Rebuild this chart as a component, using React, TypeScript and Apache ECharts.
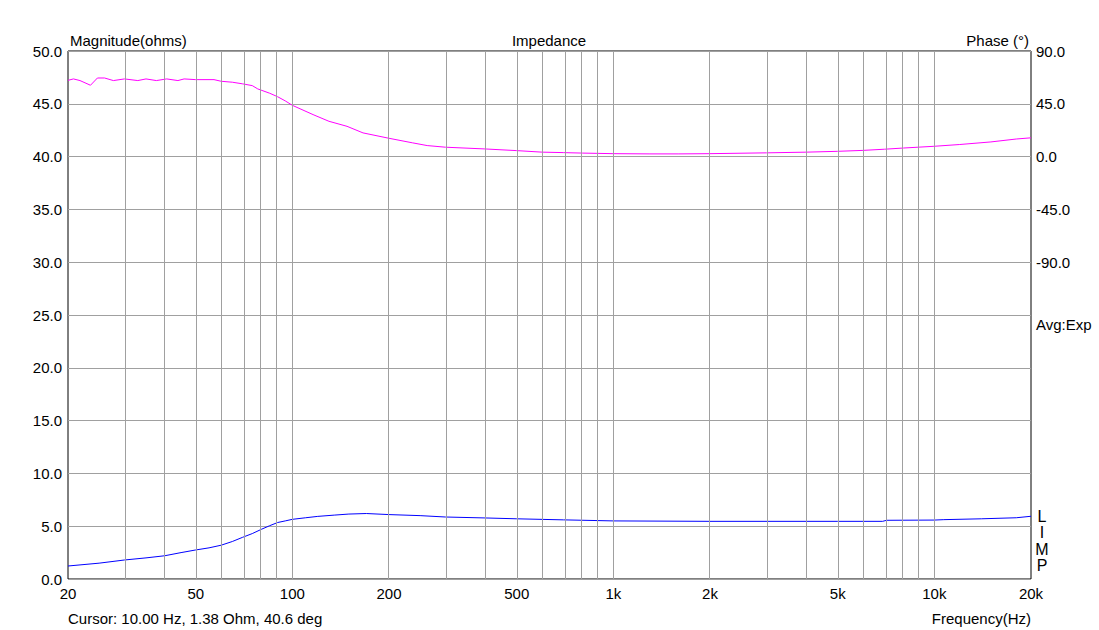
import React, { useEffect, useRef } from "react";
import * as echarts from "echarts";

const magFreq = [20, 25, 30, 35, 40, 45, 50, 55, 60, 65, 70, 75, 80, 85, 90, 95, 100, 110, 120, 135, 150, 170, 200, 250, 300, 400, 500, 700, 1000, 2000, 5000, 6900, 7100, 10000, 10700, 14000, 18000, 20000];
const magValues = [1.23, 1.5, 1.8, 2.0, 2.2, 2.5, 2.75, 2.95, 3.2, 3.55, 3.95, 4.3, 4.7, 5.05, 5.35, 5.5, 5.65, 5.8, 5.93, 6.05, 6.15, 6.2, 6.1, 6.0, 5.87, 5.78, 5.7, 5.6, 5.5, 5.46, 5.46, 5.46, 5.56, 5.58, 5.62, 5.7, 5.8, 5.94];

const phaseFreq = [20, 20.8, 21.8, 23.5, 24.7, 26, 27.7, 30, 33, 35, 37.7, 40.6, 44, 46, 50, 57, 60, 65, 70, 75, 78, 85, 90, 95, 100, 116, 130, 148, 166, 200, 237, 263, 300, 400, 500, 600, 700, 800, 1000, 1300, 1600, 2000, 3000, 4000, 5000, 6000, 7000, 8000, 10000, 12000, 15000, 18000, 20000];
const phaseValues = [65, 66.2, 64.8, 60.8, 67, 67, 64.8, 66.2, 64.8, 66.2, 64.8, 66.2, 64.8, 66.2, 65.6, 65.6, 64.2, 63.4, 62, 60.5, 57.7, 54, 51, 47.5, 43.7, 35.8, 30.1, 25.8, 20.2, 15.6, 11.7, 9.4, 8, 6.5, 5.1, 3.8, 3.4, 3, 2.5, 2.3, 2.3, 2.5, 3.2, 3.8, 4.5, 5.3, 6.3, 7.3, 8.8, 10.3, 12.5, 15, 16];

const freqLabels = [20, 50, 100, 200, 500, 1000, 2000, 5000, 10000, 20000];
const gridFreqs = [30, 40, 50, 60, 70, 80, 90, 100, 200, 300, 400, 500, 600, 700, 800, 900, 1000, 2000, 3000, 4000, 5000, 6000, 7000, 8000, 9000, 10000];
const limpLetters = ["L", "I", "M", "P"];

const FONT = "'Liberation Sans', Arial, sans-serif";
const FS = 15;

function fmtFreq(v: number): string {
  const f = Math.round(Math.pow(10, v));
  if (f >= 1000) return f / 1000 + "k";
  return String(f);
}

export default function App() {
  const ref = useRef<HTMLDivElement>(null);
  useEffect(() => {
    if (!ref.current) return;
    const chart = echarts.init(ref.current, null, { renderer: "svg" });
    const lg = (f: number) => Math.log10(f);
    const textStyle = { fontFamily: FONT, fontSize: FS, fill: "#000" };
    chart.setOption({
      animation: false,
      backgroundColor: "#fff",
      grid: { left: 68, right: 68, top: 51, bottom: 51, show: true, borderColor: "#000", borderWidth: 1, backgroundColor: "transparent" },
      xAxis: {
        type: "value",
        min: lg(20),
        max: lg(20000),
        axisLine: { show: false },
        axisTick: { show: false },
        splitLine: { show: false },
        axisLabel: {
          customValues: freqLabels.map(lg),
          formatter: (v: number) => fmtFreq(v),
          color: "#000",
          fontFamily: FONT,
          fontSize: FS,
          margin: 7,
          showMinLabel: true,
          showMaxLabel: true,
        },
      },
      yAxis: [
        {
          type: "value",
          min: 0,
          max: 50,
          interval: 5,
          axisLine: { show: false },
          axisTick: { show: false },
          splitLine: { show: true, lineStyle: { color: "#a0a0a0", width: 1 } },
          axisLabel: { formatter: (v: number) => v.toFixed(1), color: "#000", fontFamily: FONT, fontSize: FS, margin: 6 },
        },
        {
          type: "value",
          min: -360,
          max: 90,
          interval: 45,
          position: "right",
          axisLine: { show: false },
          axisTick: { show: false },
          splitLine: { show: false },
          axisLabel: { formatter: (v: number) => (v >= -90 ? v.toFixed(1) : ""), color: "#000", fontFamily: FONT, fontSize: FS, margin: 5 },
        },
      ],
      series: [
        {
          type: "line",
          data: [],
          silent: true,
          z: 1,
          markLine: {
            silent: true,
            symbol: "none",
            label: { show: false },
            lineStyle: { color: "#a0a0a0", width: 1, type: "solid" },
            data: gridFreqs.map((f) => ({ xAxis: lg(f) })),
          },
        },
        {
          name: "Phase",
          type: "line",
          yAxisIndex: 1,
          data: phaseFreq.map((f, i) => [lg(f), phaseValues[i]]),
          showSymbol: false,
          symbol: "none",
          lineStyle: { color: "#ff00ff", width: 1 },
          z: 3,
        },
        {
          name: "Magnitude",
          type: "line",
          data: magFreq.map((f, i) => [lg(f), magValues[i]]),
          showSymbol: false,
          symbol: "none",
          lineStyle: { color: "#0000ff", width: 1 },
          z: 3,
        },
      ],
      graphic: [
        { type: "text", x: 70, y: 40, style: { ...textStyle, text: "Magnitude(ohms)", textVerticalAlign: "middle" } },
        { type: "text", x: 549, y: 40, style: { ...textStyle, text: "Impedance", textAlign: "center", textVerticalAlign: "middle" } },
        { type: "text", x: 1029, y: 40, style: { ...textStyle, text: "Phase (°)", textAlign: "right", textVerticalAlign: "middle" } },
        { type: "text", x: 68, y: 618, style: { ...textStyle, text: "Cursor: 10.00 Hz, 1.38 Ohm, 40.6 deg", textVerticalAlign: "middle" } },
        { type: "text", x: 1031, y: 618, style: { ...textStyle, text: "Frequency(Hz)", textAlign: "right", textVerticalAlign: "middle" } },
        { type: "text", x: 1036, y: 324, style: { ...textStyle, text: "Avg:Exp", textVerticalAlign: "middle" } },
        ...limpLetters.map((ch, i) => ({
          type: "text",
          x: 1042,
          y: 516 + i * 16.5,
          style: { ...textStyle, fontSize: 16, text: ch, textAlign: "center", textVerticalAlign: "middle" },
        })),
      ],
    });
    return () => chart.dispose();
  }, []);
  return <div ref={ref} style={{ position: "absolute", left: 0, top: 0, width: 1099, height: 630, background: "#fff" }} />;
}
